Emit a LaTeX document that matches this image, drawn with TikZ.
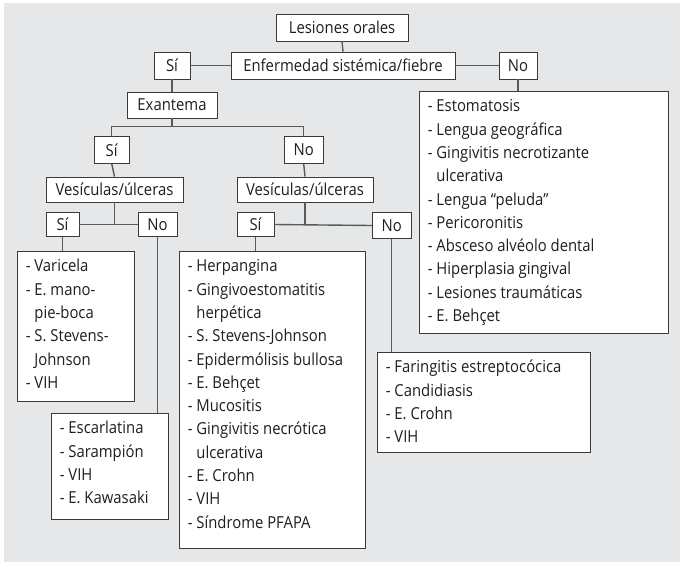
\documentclass[tikz,border=0pt]{standalone}
\usepackage{fontspec}
\setmainfont{Open Sans}[FakeStretch=0.9]
\definecolor{paper}{HTML}{E6E7E8}
\definecolor{edge}{HTML}{3A3A3A}
\definecolor{wire}{HTML}{5A5A5A}
\definecolor{ink}{HTML}{1E1E1E}
\newcommand{\cont}{\hphantom{- }}
\begin{document}
\begin{tikzpicture}[x=1pt,y=-1pt,
  every node/.style={font=\fontsize{16.5}{23.3}\selectfont, text=ink},
  box/.style={draw=edge, line width=0.8pt, fill=white, inner sep=0pt},
  link/.style={draw=wire, line width=1.4pt},
  items/.style={anchor=north west, align=left, inner sep=0pt, xshift=9pt, yshift=-4.7pt}
]
\useasboundingbox (0,0) rectangle (680,562);
\fill[white] (0,0) rectangle (680,562);
\fill[paper] (4,3) rectangle (680,562);

% decision boxes
\node[box, minimum width=132pt, minimum height=27pt] (root) at (342,27.5) {Lesiones orales};
\node[box, minimum width=36pt, minimum height=27pt] (si1) at (172,65.5) {Sí};
\node[box, minimum width=224pt, minimum height=27pt] (fever) at (343,65.5) {Enfermedad sistémica/fiebre};
\node[box, minimum width=38pt, minimum height=27pt] (no1) at (518,65.5) {No};
\node[box, minimum width=90pt, minimum height=26pt] (exan) at (172,105) {Exantema};
\node[box, minimum width=35pt, minimum height=26.5pt] (si2) at (111.7,150) {Sí};
\node[box, minimum width=39pt, minimum height=26.5pt] (no2) at (303.7,150) {No};
\node[box, minimum width=137pt, minimum height=25pt] (vesL) at (114.5,189.5) {Vesículas/úlceras};
\node[box, minimum width=136pt, minimum height=25pt] (vesR) at (305,189.5) {Vesículas/úlceras};
\node[box, minimum width=33pt, minimum height=24.5pt] (si3) at (62.5,224.5) {Sí};
\node[box, minimum width=39pt, minimum height=24.5pt] (no3) at (157.5,224.5) {No};
\node[box, minimum width=37pt, minimum height=24.5pt] (si4) at (255.5,224.5) {Sí};
\node[box, minimum width=39pt, minimum height=26.4pt] (no4) at (391.7,225.5) {No};

% result boxes
\node[box, minimum width=117pt, minimum height=150pt] (listA) at (75.5,326) {};
\node[box, minimum width=117pt, minimum height=106pt] (listB) at (109.5,466) {};
\node[box, minimum width=186pt, minimum height=297pt] (listC) at (272,399.5) {};
\node[box, minimum width=249pt, minimum height=242pt] (listD) at (543.5,212) {};
\node[box, minimum width=213pt, minimum height=100pt] (listE) at (483.5,402) {};

\node[items] (txtA) at (listA.north west) {\strut- Varicela\\- E. mano-\\\cont pie-boca\\- S. Stevens-\\\cont Johnson\\- VIH};
\node[items] (txtB) at (listB.north west) {\strut- Escarlatina\\- Sarampión\\- VIH\\- E. Kawasaki};
\node[items] (txtC) at (listC.north west) {\strut- Herpangina\\- Gingivoestomatitis\\\cont herpética\\- S. Stevens-Johnson\\- Epidermólisis bullosa\\- E. Behçet\\- Mucositis\\- Gingivitis necrótica\\\cont ulcerativa\\- E. Crohn\\- VIH\\- Síndrome PFAPA};
\node[items] (txtD) at (listD.north west) {\strut- Estomatosis\\- Lengua geográfica\\- Gingivitis necrotizante\\\cont ulcerativa\\- Lengua “peluda”\\- Pericoronitis\\- Absceso alvéolo dental\\- Hiperplasia gingival\\- Lesiones traumáticas\\- E. Behçet};
\node[items] (txtE) at (listE.north west) {\strut- Faringitis estreptocócica\\- Candidiasis\\- E. Crohn\\- VIH};

% connectors
\coordinate (j1) at (172,126.7);
\draw[link] (root.south) -- (fever.north);
\draw[link] (si1.east) -- (fever.west);
\draw[link] (fever.east) -- (no1.west);
\draw[link] (si1.south) -- (exan.north);
\draw[link] (no1.south) -- (no1.south |- listD.north);
\draw[link] (exan.south) -- (j1);
\draw[link] (si2.north) |- (j1) -| (no2.north);
\draw[link] (si2.south) -- (vesL.north);
\draw[link] (no2.south) -- (vesR.north);
\draw[link] (si3.east) -- (no3.west);
\draw[link] (vesL.south) -- (vesL.south |- si3.east);
\draw[link] (si4.east) -- (no4.west);
\draw[link] (vesR.south) -- (vesR.south |- si4.east);
\draw[link] (si3.south) -- (si3.south |- listA.north);
\draw[link] (no3.south) -- (no3.south |- listB.north);
\draw[link] (si4.south) -- (si4.south |- listC.north);
\draw[link] (no4.south) -- (no4.south |- listE.north);
\end{tikzpicture}
\end{document}
